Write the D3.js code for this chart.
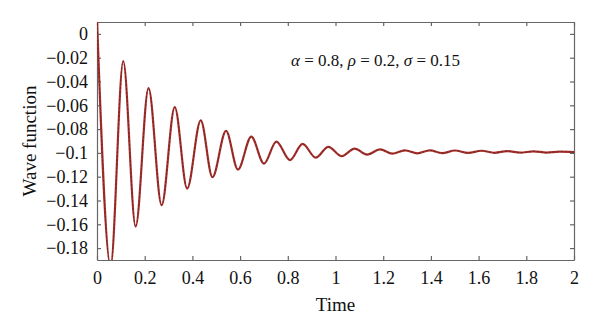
<!DOCTYPE html>
<html>
<head>
<meta charset="utf-8">
<script src="https://cdn.jsdelivr.net/npm/d3@7/dist/d3.min.js"></script>
<style>
  html, body { margin: 0; padding: 0; background: #fff; }
  svg { display: block; }
  text { font-family: "Liberation Serif", "Times New Roman", serif; fill: #111; }
</style>
</head>
<body>
<svg id="chart" width="600" height="332"></svg>
<script>
// Data (extrema of the damped oscillation)
const times = [0, 0.057, 0.110, 0.162, 0.216, 0.271, 0.326, 0.378, 0.435, 0.484, 0.541, 0.591,
  0.647, 0.700, 0.752, 0.809, 0.862, 0.917, 0.970, 1.026, 1.080, 1.133, 1.187, 1.238, 1.291,
  1.343, 1.396, 1.447, 1.501, 1.556, 1.612, 1.667, 1.720, 1.775, 1.830, 1.885, 1.940, 2.000];
const waveValues = [0.012, -0.195, -0.0228, -0.162, -0.0455, -0.144, -0.0615, -0.130, -0.0726, -0.1204, -0.0815, -0.114,
  -0.0863, -0.109, -0.0905, -0.106, -0.0924, -0.104, -0.095, -0.1028, -0.0964, -0.1014, -0.097, -0.1006, -0.0978,
  -0.1004, -0.0978, -0.1002, -0.0980, -0.1000, -0.0982, -0.0999, -0.0985, -0.0998, -0.0987, -0.0997, -0.0990, -0.0994];
const xTicks = [0, 0.2, 0.4, 0.6, 0.8, 1, 1.2, 1.4, 1.6, 1.8, 2];
const yTicks = [0, -0.02, -0.04, -0.06, -0.08, -0.1, -0.12, -0.14, -0.16, -0.18];
const xLabel = "Time";
const yLabel = "Wave function";

const SERIF = '"Liberation Serif", "Times New Roman", serif';
const svg = d3.select("#chart");
const m = { left: 97, right: 26, top: 22, bottom: 72 };
const W = 600, H = 332;
const x = d3.scaleLinear().domain([0, 2]).range([m.left, W - m.right]);
const y = d3.scaleLinear().domain([-0.19, 0.01]).range([H - m.bottom, m.top]);

svg.append("defs").append("clipPath").attr("id", "clip")
  .append("rect").attr("x", m.left).attr("y", m.top)
  .attr("width", W - m.left - m.right).attr("height", H - m.top - m.bottom);

const fmt = d3.format("~g");
const axisColor = "#666";
const tickLen = 4;

function styleAxis(g) {
  g.attr("font-family", SERIF);
  g.select(".domain").attr("stroke", axisColor).attr("stroke-width", 1.2);
  g.selectAll(".tick line").attr("stroke", axisColor).attr("stroke-width", 1.2);
  g.selectAll(".tick text").style("font-family", SERIF).style("font-size", "18px").attr("fill", "#111");
}

// bottom
svg.append("g").attr("transform", `translate(0,${y.range()[0]})`)
  .call(d3.axisBottom(x).tickValues(xTicks).tickFormat(fmt).tickSizeInner(-tickLen).tickSizeOuter(0).tickPadding(11))
  .call(styleAxis);
// top
svg.append("g").attr("transform", `translate(0,${m.top})`)
  .call(d3.axisTop(x).tickValues(xTicks).tickFormat("").tickSizeInner(-tickLen).tickSizeOuter(0))
  .call(styleAxis);
// left
svg.append("g").attr("transform", `translate(${m.left},0)`)
  .call(d3.axisLeft(y).tickValues(yTicks).tickFormat(fmt).tickSizeInner(-tickLen).tickSizeOuter(0).tickPadding(9))
  .call(styleAxis);
// right
svg.append("g").attr("transform", `translate(${W - m.right},0)`)
  .call(d3.axisRight(y).tickValues(yTicks).tickFormat("").tickSizeInner(-tickLen).tickSizeOuter(0))
  .call(styleAxis);

const pts = times.map((t, i) => [t, waveValues[i]]);
const line = d3.line().x(d => x(d[0])).y(d => y(d[1])).curve(d3.curveMonotoneX);

const plot = svg.append("g").attr("clip-path", "url(#clip)");
plot.append("path").datum(pts).attr("d", line)
  .attr("fill", "none").attr("stroke", "#a8302c").attr("stroke-width", 2.2);
plot.append("path").datum(pts).attr("d", line)
  .attr("fill", "none").attr("stroke", "#3a1a1a").attr("stroke-width", 0.9)
  .attr("stroke-dasharray", "2,2").attr("opacity", 0.6);

// labels
svg.append("text").attr("x", (x.range()[0] + x.range()[1]) / 2).attr("y", 311)
  .attr("text-anchor", "middle").style("font-family", SERIF).style("font-size", "19px").text(xLabel);
svg.append("text")
  .attr("transform", `translate(36,${(y.range()[0] + y.range()[1]) / 2}) rotate(-90)`)
  .attr("text-anchor", "middle").style("font-family", SERIF).style("font-size", "19px").text(yLabel);

// annotation
const ann = svg.append("text").attr("x", 291).attr("y", 66)
  .style("font-family", SERIF).style("font-size", "17px");
const parts = [["α", true], [" = 0.8, ", false], ["ρ", true], [" = 0.2, ", false], ["σ", true], [" = 0.15", false]];
parts.forEach(([s, it]) => ann.append("tspan").style("font-style", it ? "italic" : "normal").text(s));
</script>
</body>
</html>
